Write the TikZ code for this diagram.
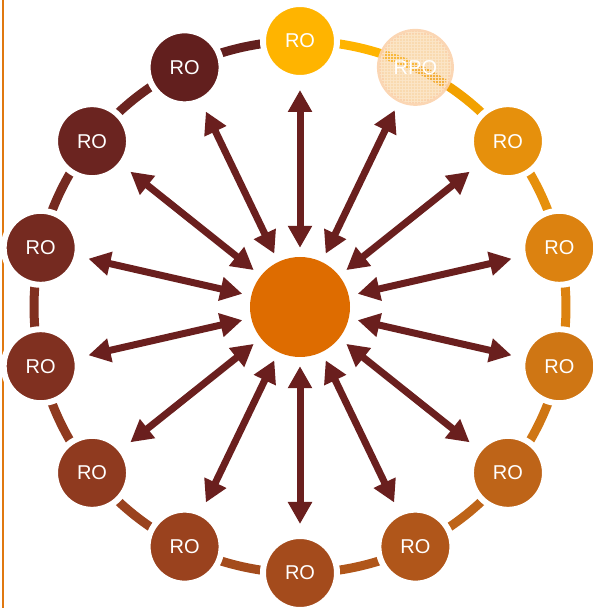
\documentclass[tikz,border=0pt]{standalone}
\usepackage{fontspec}
\setsansfont{Liberation Sans}
\usetikzlibrary{arrows.meta,patterns}
\definecolor{ro0}{HTML}{FFB400}
\definecolor{ro1}{HTML}{F2A100}
\definecolor{ro2}{HTML}{E6900C}
\definecolor{ro3}{HTML}{DC8210}
\definecolor{ro4}{HTML}{CF7614}
\definecolor{ro5}{HTML}{BE6418}
\definecolor{ro6}{HTML}{B0561A}
\definecolor{ro7}{HTML}{A44B1C}
\definecolor{ro8}{HTML}{9A421E}
\definecolor{ro9}{HTML}{8F3A1F}
\definecolor{ro10}{HTML}{803020}
\definecolor{ro11}{HTML}{752A20}
\definecolor{ro12}{HTML}{6B2420}
\definecolor{ro13}{HTML}{621F1E}
\definecolor{hubfill}{HTML}{DE6C00}
\definecolor{spokec}{HTML}{6A1F1E}
\definecolor{rpofill}{HTML}{F4BC70}
\definecolor{rpogrid}{HTML}{FCE6C8}
\definecolor{rpoedge}{HTML}{FBD2AC}
\definecolor{sideline}{HTML}{E07810}
\tikzstyle{ro}=[circle, draw=white, line width=6pt, minimum size=74pt, inner sep=0pt, text=white]
\tikzstyle{hub}=[circle, fill=hubfill, minimum size=100pt, inner sep=0pt]
\tikzstyle{spoke}=[<->, draw=spokec, line width=7pt, shorten <=9pt, shorten >=9pt]
\tikzstyle{ring}=[line width=9pt]

\begin{document}
\begin{tikzpicture}[x=1pt,y=1pt,>={Triangle[length=22pt,width=23pt]},font=\sffamily\fontsize{20}{24}\selectfont]
    \useasboundingbox (0,0) rectangle (592,608);
    \draw[sideline, line width=2pt] (3,0) -- (3,608);
    \node [hub] (hub) at (300,301) {};
    \foreach \i in {0,...,13}
        \draw[ring, ro\i] (hub.center) ++({90-\i*360/14}:266)
            arc[start angle={90-\i*360/14}, delta angle={-360/14}, radius=266];
    \foreach \i in {0,2,3,...,13}
        \node [ro, fill=ro\i] (n\i) at ([shift={({90-\i*360/14}:266)}]hub.center) {RO};
    \node [ro, draw=rpoedge, draw opacity=0.9, line width=5pt, minimum size=72pt,
        fill=rpofill, fill opacity=0.55, text opacity=1,
        postaction={pattern=grid, pattern color=rpogrid}]
        (n1) at ([shift={(90-360/14:266)}]hub.center) {RPO};
    \foreach \i in {0,...,13}
        \draw[spoke] (hub) -- (n\i);
\end{tikzpicture}
\end{document}
